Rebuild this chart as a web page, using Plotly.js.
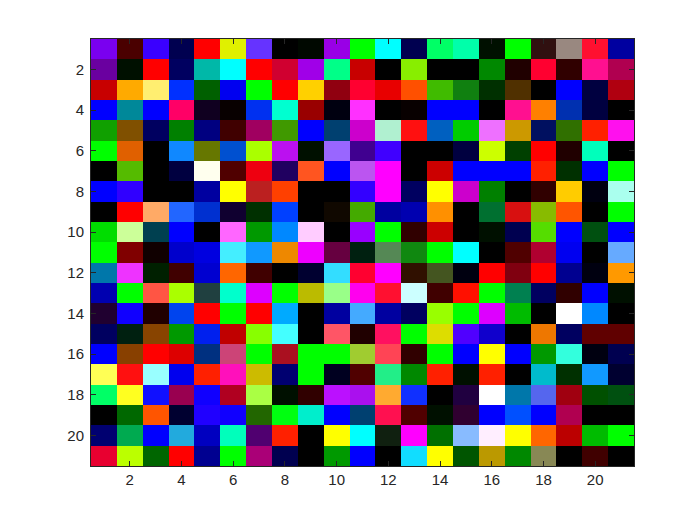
<!DOCTYPE html>
<html>
<head>
<meta charset="utf-8">
<script src="https://cdn.plot.ly/plotly-3.0.1.min.js"></script>
<style>
  html, body { margin: 0; padding: 0; background: #fff; }
</style>
</head>
<body>
<div id="plot" style="width:700px;height:525px"></div>
<script>
// One list per image row, colours
const row1 = ["#7a00f0","#4a0000","#3a00ff","#000050","#ff0000","#e0f000","#6633ff","#000000","#000800","#9900e6","#00ff00","#00ffff","#000050","#00ff66","#00ffaa","#001000","#00ff00","#301010","#998880","#ff1030","#0000a0"];
const row2 = ["#6a00a0","#001000","#ff0000","#000060","#00b8a8","#00ffff","#ff0000","#d00030","#a000e8","#00ff88","#c80000","#000000","#88ee00","#000000","#000000","#008800","#200000","#ff0030","#300000","#ff1090","#b00050"];
const row3 = ["#c80000","#ffaa00","#ffee70","#0030ff","#006000","#0000f0","#00ff00","#ff0000","#ffd000","#900010","#ff0030","#e80000","#ff5000","#40bb00","#108010","#003000","#503000","#000000","#0000ff","#000040","#b00010"];
const row4 = ["#0000ff","#008899","#0000ff","#ff0066","#100020","#080000","#0030f0","#00ffd0","#990000","#000010","#ff30ff","#000000","#080000","#0000ff","#0000ff","#000000","#ff1090","#ff8000","#0030b0","#000040","#000000"];
const row5 = ["#10a000","#805000","#000060","#008000","#000080","#400000","#a00060","#409900","#0000ff","#004070","#cc00cc","#b0f0d0","#ff1010","#0060c0","#00cc00","#ee70ff","#cc9900","#001060","#307000","#ff2000","#ff10ee"];
const row6 = ["#00ff00","#e06000","#000000","#1088ff","#667700","#0050d0","#aaff00","#bb10f0","#001000","#9966ff","#400090","#4000ff","#000000","#000000","#000040","#ccff00","#004000","#ff0000","#200000","#00ffbb","#000000"];
const row7 = ["#000000","#55bb00","#000000","#000040","#ffffee","#500000","#ee0010","#200060","#ff5520","#0000ff","#bb55f0","#ff00ff","#000000","#cc0000","#0000ff","#0000ff","#0000ff","#ff2000","#003000","#0000ff","#00ff00"];
const row8 = ["#0000ff","#3000ff","#000000","#000000","#0000a0","#ffff00","#bb2020","#ff4000","#000000","#000000","#3300ff","#ff00ff","#000060","#ffff00","#cc00cc","#008000","#000000","#300000","#ffcc00","#000010","#aaffee"];
const row9 = ["#000000","#ff0000","#ffaa66","#2266ff","#0030d0","#100030","#003000","#0040ff","#000000","#100800","#44aa00","#0000a0","#0000b0","#ff9000","#000000","#007030","#d81010","#88bb00","#ff5500","#000000","#00ff00"];
const row10 = ["#00dd00","#ccff99","#004050","#0000ff","#000000","#ff66ff","#009900","#0088ff","#ffccff","#000000","#9900ff","#00ff00","#300000","#cc0000","#000000","#001000","#000050","#55dd00","#0000ff","#005010","#0000ff"];
const row11 = ["#00ff00","#800000","#100000","#0000cc","#0000e0","#44eeff","#1099ff","#ee8800","#ee00ff","#660040","#002010","#558855","#108810","#00ff00","#00ffff","#000000","#500000","#b00030","#0000f0","#000000","#66aaff"];
const row12 = ["#0077aa","#ee33ff","#002000","#400000","#0000d0","#ff6600","#400000","#000000","#000030","#33ddff","#ff0030","#ff00ff","#301000","#445520","#000010","#ff0000","#800010","#ff0000","#000090","#000010","#ff9900"];
const row13 = ["#0000b0","#00ff00","#ff5544","#aaff00","#204040","#00ffcc","#dd00ff","#00ff00","#bbbb00","#99ff88","#ff00ee","#ff1030","#ccffff","#400000","#ff1000","#00ff00","#008050","#000060","#300000","#0000ff","#001000"];
const row14 = ["#200030","#1000ff","#200000","#0044ee","#ff0000","#00ff00","#ff0000","#00aaff","#000000","#0000a0","#44aaff","#0000a0","#000060","#99ff00","#00ff00","#dd00ff","#00bb00","#000000","#ffffff","#0088ff","#000000"];
const row15 = ["#000060","#002010","#884400","#009900","#0020ee","#c00000","#88ff00","#44ffff","#000000","#ff5566","#200000","#ff1060","#00ff00","#dddd00","#5000ff","#1000cc","#000000","#ee7700","#000060","#600000","#600000"];
const row16 = ["#0000ff","#884000","#ff0000","#dd0000","#003080","#cc4477","#00ff00","#aa1020","#00ff00","#00ff00","#a0cc30","#ff4455","#300000","#00ff00","#0000ff","#ffff00","#0000ff","#009900","#33ffdd","#000010","#000050"];
const row17 = ["#ffff55","#ff1010","#99ffff","#0000ee","#ff2000","#ff10bb","#ccbb00","#000070","#00ff00","#000020","#500000","#22ee88","#008800","#ff2000","#001000","#ff2000","#000000","#00bbcc","#003000","#1199ff","#000030"];
const row18 = ["#00ff66","#ffff20","#1010ff","#990050","#1000ff","#b00020","#aaff44","#001000","#300000","#bb10ff","#aa10ee","#ffaa30","#1030ff","#000000","#200040","#ffffff","#0077aa","#5566ee","#a00010","#005000","#005010"];
const row19 = ["#000000","#006800","#ff5500","#000030","#2000ff","#1000ff","#226600","#00ff10","#00eecc","#0000ff","#004070","#ff1050","#500000","#001000","#300030","#0000ff","#0050ff","#0000ff","#b00050","#000000","#000000"];
const row20 = ["#000070","#00aa50","#0000ff","#22aadd","#0000c0","#00ffbb","#500070","#ff2000","#000000","#ffff00","#00ffff","#102010","#ff00ff","#007000","#88bbff","#ffeeff","#ffff00","#ff6600","#bb0000","#00bb00","#00ff00"];
const row21 = ["#e80030","#bbff00","#006600","#ff0000","#000090","#00ff00","#aa0077","#000050","#000000","#009900","#0000ff","#000000","#11ddff","#ffff00","#005500","#bb9900","#008800","#888855","#000000","#400000","#000000"];
const tickVals = [2,4,6,8,10,12,14,16,18,20];

const rows = [row1,row2,row3,row4,row5,row6,row7,row8,row9,row10,row11,row12,row13,row14,row15,row16,row17,row18,row19,row20,row21];

function hexToRgb(h) {
  return [parseInt(h.slice(1,3),16), parseInt(h.slice(3,5),16), parseInt(h.slice(5,7),16)];
}

const axisStyle = {
  tickmode: "array",
  tickvals: tickVals,
  ticks: "inside",
  ticklen: 5,
  tickwidth: 1,
  tickcolor: "#262626",
  showline: true,
  linecolor: "#262626",
  linewidth: 1,
  mirror: "ticks",
  showgrid: false,
  zeroline: false,
  tickfont: { family: "Liberation Sans, Arial, sans-serif", size: 15, color: "#262626" },
};

Plotly.newPlot("plot", [{
  type: "image",
  z: rows.map((r) => r.map(hexToRgb)),
  x0: 1, dx: 1,
  y0: 1, dy: 1,
}], {
  width: 700,
  height: 525,
  margin: { l: 91, r: 66, t: 39, b: 59, pad: 0 },
  paper_bgcolor: "#ffffff",
  plot_bgcolor: "#ffffff",
  xaxis: { ...axisStyle, range: [0.5, 21.5], constrain: "domain" },
  yaxis: { ...axisStyle, range: [21.5, 0.5], scaleanchor: false, ticklabelstandoff: 3 },
}, { displayModeBar: false, responsive: false });
</script>
</body>
</html>
